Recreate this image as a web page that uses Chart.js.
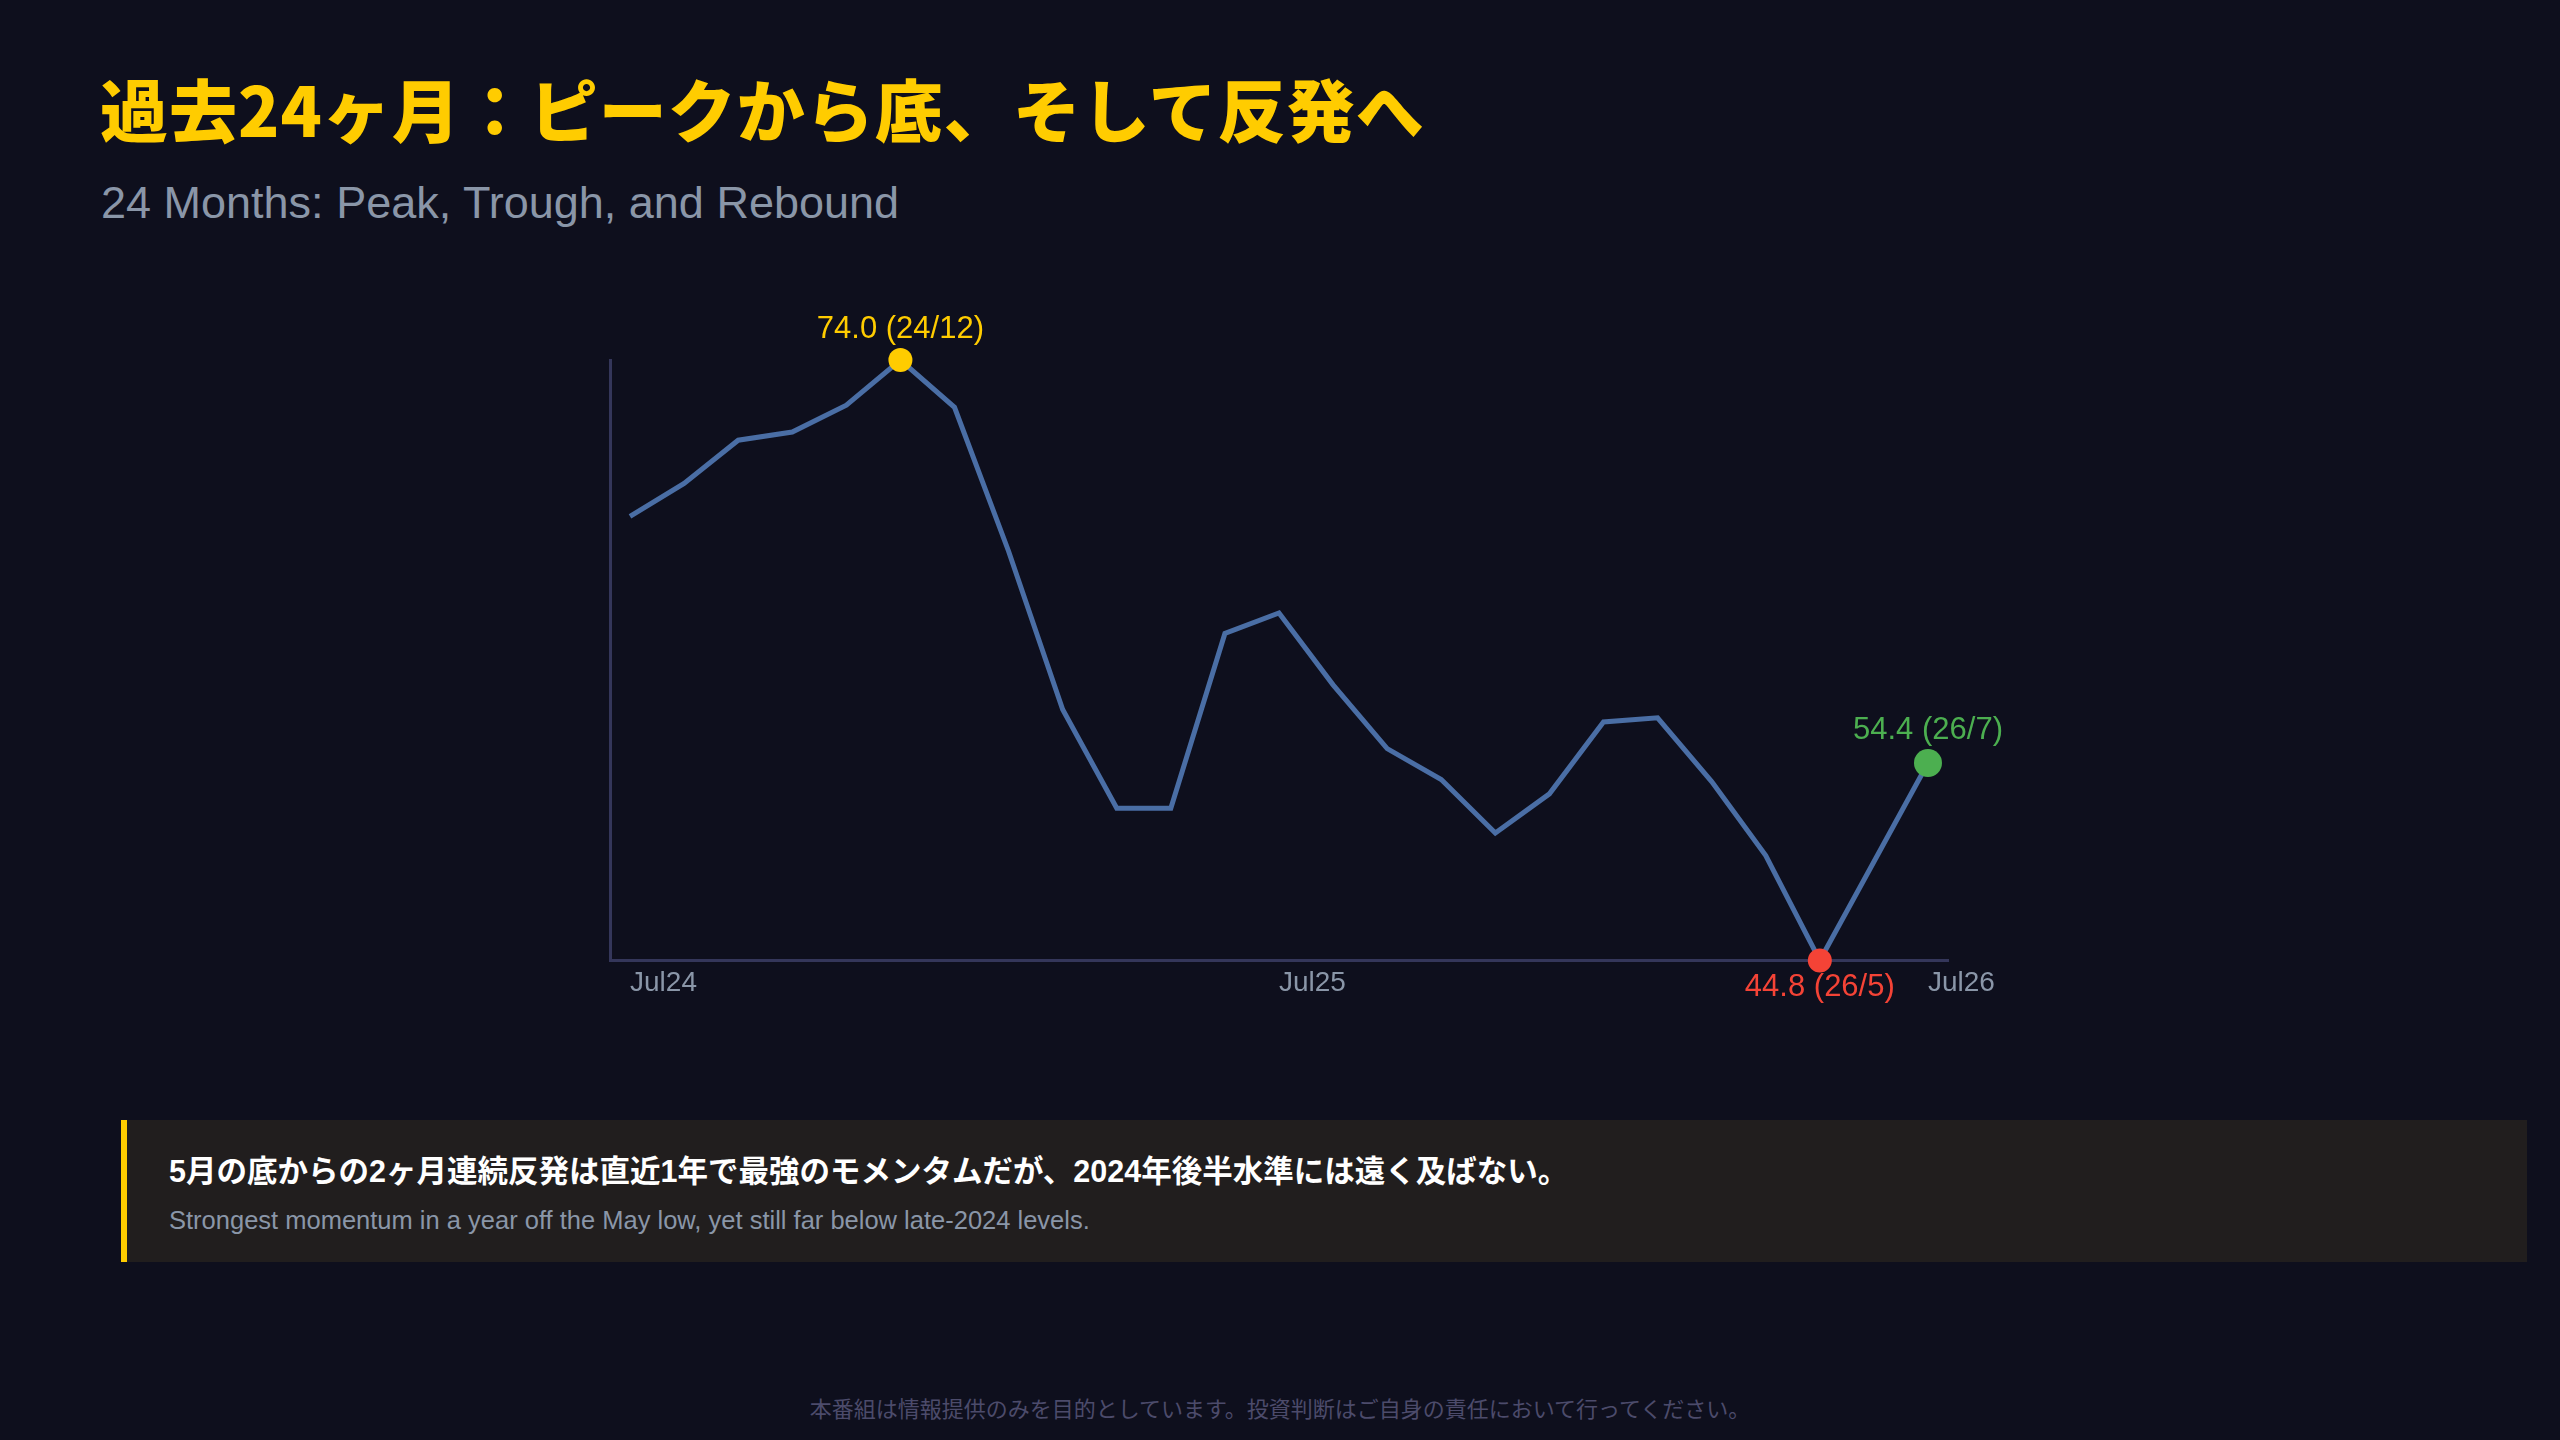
<!DOCTYPE html>
<html>
<head>
<meta charset="utf-8">
<script src="https://cdn.jsdelivr.net/npm/chart.js@4.4.0/dist/chart.umd.min.js"></script>
<title>24 Months</title>
<style>
  html, body { margin: 0; padding: 0; background: #0e0f1d; }
  body { width: 2560px; height: 1440px; position: relative; overflow: hidden;
         font-family: "Liberation Sans", "Noto Sans CJK JP", sans-serif; }
  .title { position: absolute; left: 100px; top: 74px; font-size: 68px; font-weight: 900;
           font-family: "Noto Sans CJK JP", sans-serif;
           color: #ffcc00; line-height: 1; letter-spacing: 1px; }
  .subtitle { position: absolute; left: 101px; top: 176px; font-size: 45px; color: #8a96a8;
              line-height: 1.2; }
  .chart-box { position: absolute; left: 0; top: 250px; width: 2560px; height: 800px; }
  .note { position: absolute; left: 121px; top: 1120px; width: 2406px; height: 142px;
          background: #211e1e; border-left: 6px solid #ffcc00; box-sizing: border-box; }
  .note .jp { position: absolute; left: 42px; top: 33px; font-size: 30.5px; font-weight: 600;
              color: #ffffff; line-height: 1.2; }
  .note .en { position: absolute; left: 42px; top: 85px; font-size: 25.5px; color: #8a96a8;
              line-height: 1.2; }
  .footer { position: absolute; left: 0; width: 2560px; top: 1394px; text-align: center;
            font-size: 22px; color: #4c4b6b; line-height: 1.2;
            font-family: "Noto Sans CJK JP", sans-serif; }
</style>
</head>
<body>
  <div class="title">過去24ヶ月：ピークから底、そして反発へ</div>
  <div class="subtitle">24 Months: Peak, Trough, and Rebound</div>
  <div class="chart-box"><canvas id="pmi"></canvas></div>
  <div class="note">
    <div class="jp">5月の底からの2ヶ月連続反発は直近1年で最強のモメンタムだが、2024年後半水準には遠く及ばない。</div>
    <div class="en">Strongest momentum in a year off the May low, yet still far below late-2024 levels.</div>
  </div>
  <div class="footer">本番組は情報提供のみを目的としています。投資判断はご自身の責任において行ってください。</div>
<script>
// months (yy/m) from Jul 2024 to Jul 2026
const months = ['24/7','24/8','24/9','24/10','24/11','24/12',
                '25/1','25/2','25/3','25/4','25/5','25/6',
                '25/7','25/8','25/9','25/10','25/11','25/12',
                '26/1','26/2','26/3','26/4','26/5','26/6','26/7'];
const values = [66.4, 68.0, 70.1, 70.5, 71.8, 74.0,
                71.7, 64.7, 57.0, 52.2, 52.2, 60.7,
                61.7, 58.2, 55.1, 53.6, 51.0, 52.9,
                56.4, 56.6, 53.5, 49.9, 44.8, 49.6, 54.4];
const tickIdx = [0, 12, 24];
const tickLabels = ['Jul24', 'Jul25', 'Jul26'];

const peakIdx = values.indexOf(Math.max(...values));
const lowIdx = values.indexOf(Math.min(...values));
const lastIdx = values.length - 1;

function dotColor(i) {
  if (i === peakIdx) return '#ffcc00';
  if (i === lowIdx) return '#f44336';
  if (i === lastIdx) return '#4caf50';
  return 'rgba(0,0,0,0)';
}
function dotRadius(i) {
  if (i === lastIdx) return 14;
  if (i === peakIdx || i === lowIdx) return 12;
  return 0;
}

const labelPlugin = {
  id: 'pointLabels',
  afterDatasetsDraw(chart) {
    const ctx = chart.ctx;
    const xs = chart.scales.x, ys = chart.scales.y;
    const items = [
      { i: peakIdx, dy: -31, color: '#ffcc00' },
      { i: lowIdx, dy: 27, color: '#f44336' },
      { i: lastIdx, dy: -33, color: '#4caf50' }
    ];
    ctx.save();
    ctx.font = '31px "Liberation Sans", "Noto Sans", sans-serif';
    ctx.textAlign = 'center';
    ctx.textBaseline = 'middle';
    items.forEach(it => {
      const x = xs.getPixelForValue(it.i);
      const y = ys.getPixelForValue(values[it.i]);
      ctx.fillStyle = it.color;
      ctx.fillText(values[it.i].toFixed(1) + ' (' + months[it.i] + ')', x, y + it.dy);
    });
    ctx.restore();
  }
};

new Chart(document.getElementById('pmi'), {
  type: 'line',
  data: {
    datasets: [{
      data: values.map((v, i) => ({ x: i, y: v })),
      borderColor: '#4a6ea5',
      borderWidth: 5,
      tension: 0,
      fill: false,
      pointRadius: c => dotRadius(c.dataIndex),
      pointBackgroundColor: c => dotColor(c.dataIndex),
      pointBorderWidth: 0,
      clip: false
    }]
  },
  options: {
    responsive: true,
    maintainAspectRatio: false,
    animation: false,
    layout: { padding: { left: 610, right: 612, top: 110, bottom: 44 } },
    plugins: { legend: { display: false }, tooltip: { enabled: false } },
    scales: {
      x: {
        type: 'linear',
        min: -0.37,
        max: lastIdx + 0.37,
        afterBuildTicks: s => { s.ticks = tickIdx.map(v => ({ value: v })); },
        grid: { display: false, drawTicks: false },
        border: { display: true, color: '#34365a', width: 3 },
        ticks: {
          align: 'start',
          padding: 6,
          color: '#8a96a8',
          font: { family: '"Liberation Sans", "Noto Sans", sans-serif', size: 28 },
          callback: v => tickLabels[tickIdx.indexOf(v)]
        }
      },
      y: {
        min: Math.min(...values),
        max: Math.max(...values),
        grid: { display: false, drawTicks: false },
        border: { display: true, color: '#34365a', width: 3 },
        ticks: { display: false }
      }
    }
  },
  plugins: [labelPlugin]
});
</script>
</body>
</html>
